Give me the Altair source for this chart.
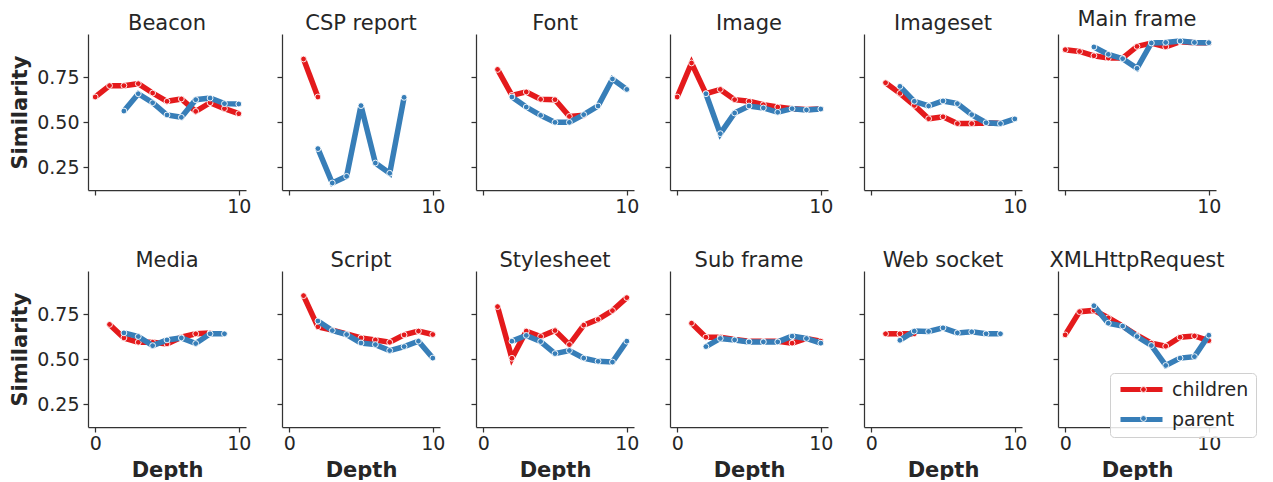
import altair as alt
import pandas as pd

N = None
DEPTHS = list(range(11))
SERIES = ["children", "parent"]
MARKERS = ["children marker", "parent marker"]
COLORS = ["#e41a1c", "#377eb8"]
CATEGORIES = ["Beacon", "CSP report", "Font", "Image", "Imageset", "Main frame",
              "Media", "Script", "Stylesheet", "Sub frame", "Web socket", "XMLHttpRequest"]

beacon_children = [0.641, 0.704, 0.704, 0.715, 0.663, 0.617, 0.630, 0.561, 0.609, 0.576, 0.548]
beacon_parent = [N, N, 0.563, 0.659, 0.609, 0.541, 0.528, 0.626, 0.635, 0.604, 0.602]
csp_children = [N, 0.852, 0.641, N, N, N, N, N, N, N, N]
csp_parent = [N, N, 0.354, 0.163, 0.200, 0.593, 0.274, 0.217, 0.639, N, N]
font_children = [N, 0.794, 0.650, 0.669, 0.628, 0.626, 0.533, 0.539, N, N, N]
font_parent = [N, N, 0.641, 0.585, 0.539, 0.500, 0.500, 0.543, 0.591, 0.741, 0.683]
image_children = [0.641, 0.830, 0.659, 0.683, 0.626, 0.617, 0.598, 0.585, 0.576, 0.572, 0.574]
image_parent = [N, N, 0.659, 0.437, 0.552, 0.591, 0.580, 0.556, 0.576, 0.569, 0.574]
imageset_children = [N, 0.720, 0.661, 0.594, 0.520, 0.531, 0.493, 0.493, 0.496, 0.495, N]
imageset_parent = [N, N, 0.700, 0.617, 0.591, 0.619, 0.604, 0.543, 0.498, 0.493, 0.519]
mainframe_children = [0.904, 0.894, 0.870, 0.857, 0.857, 0.922, 0.941, 0.920, 0.948, 0.943, 0.943]
mainframe_parent = [N, N, 0.919, 0.878, 0.854, 0.800, 0.941, 0.944, 0.952, 0.944, 0.943]
media_children = [N, 0.694, 0.619, 0.595, 0.595, 0.586, 0.623, 0.642, 0.647, N, N]
media_parent = [N, N, 0.647, 0.627, 0.576, 0.608, 0.619, 0.588, 0.642, 0.642, N]
script_children = [N, 0.854, 0.681, 0.662, 0.642, 0.619, 0.608, 0.595, 0.636, 0.657, 0.638]
script_parent = [N, N, 0.713, 0.660, 0.638, 0.591, 0.582, 0.549, 0.571, 0.601, 0.507]
stylesheet_children = [N, 0.793, 0.506, 0.657, 0.627, 0.660, 0.582, 0.690, 0.722, 0.771, 0.843]
stylesheet_parent = [N, N, 0.601, 0.633, 0.599, 0.532, 0.549, 0.507, 0.489, 0.485, 0.601]
subframe_children = [N, 0.701, 0.623, 0.623, 0.610, 0.600, 0.600, 0.600, 0.590, 0.616, 0.601]
subframe_parent = [N, N, 0.571, 0.616, 0.608, 0.597, 0.597, 0.597, 0.629, 0.616, 0.590]
websocket_children = [N, 0.642, 0.642, 0.642, N, N, N, N, N, N, N]
websocket_parent = [N, N, 0.606, 0.657, 0.655, 0.675, 0.647, 0.653, 0.642, 0.642, N]
xhr_children = [0.636, 0.765, 0.772, 0.731, 0.685, 0.634, 0.590, 0.573, 0.623, 0.630, 0.604]
xhr_parent = [N, N, 0.798, 0.701, 0.685, 0.627, 0.577, 0.466, 0.507, 0.515, 0.634]

SERIES_BY_CATEGORY = {
    "Beacon": (beacon_children, beacon_parent),
    "CSP report": (csp_children, csp_parent),
    "Font": (font_children, font_parent),
    "Image": (image_children, image_parent),
    "Imageset": (imageset_children, imageset_parent),
    "Main frame": (mainframe_children, mainframe_parent),
    "Media": (media_children, media_parent),
    "Script": (script_children, script_parent),
    "Stylesheet": (stylesheet_children, stylesheet_parent),
    "Sub frame": (subframe_children, subframe_parent),
    "Web socket": (websocket_children, websocket_parent),
    "XMLHttpRequest": (xhr_children, xhr_parent),
}

rows = []
for cat in CATEGORIES:
    for s, m, vals in zip(SERIES, MARKERS, SERIES_BY_CATEGORY[cat]):
        for d, v in zip(DEPTHS, vals):
            if v is not None:
                rows.append({"category": cat, "series": s, "marker": m, "depth": d, "value": v})
df = pd.DataFrame(rows)

FONT = "DejaVu Sans"
TXT = "#262626"
X_DOMAIN = [-0.5, 10.5]
Y_DOMAIN = [0.124, 0.991]
X_TICKS = [0, 10]
Y_TICKS = [0.25, 0.5, 0.75]
PANEL_W, PANEL_H = 158, 156

color_scale = alt.Scale(domain=SERIES, range=COLORS)
fill_scale = alt.Scale(domain=MARKERS, range=COLORS)
color_legend = alt.Legend(
    title=None, orient="none", legendX=1022, legendY=339,
    symbolType="M-1,0H6", symbolSize=144, symbolStrokeWidth=5,
    labelOffset=36, labelFontSize=19, labelFont=FONT, labelColor=TXT,
    padding=7, rowPadding=9, strokeColor="#d0d0d0", cornerRadius=4,
    fillColor="rgba(255,255,255,0.85)",
)
fill_legend = alt.Legend(
    title=None, orient="none", legendX=1039, legendY=339,
    symbolType="circle", symbolSize=34, symbolStrokeColor="white",
    symbolStrokeWidth=0.9, symbolOpacity=1,
    labelExpr="''", labelFontSize=19, labelFont=FONT,
    padding=7, rowPadding=9,
)


def panel(idx, cat):
    row, col = divmod(idx, 6)
    if row == 0:
        xaxis = alt.Axis(values=X_TICKS, title=None, labelFlush=False,
                         labelExpr="datum.value == 10 ? '10' : ''")
    else:
        xaxis = alt.Axis(values=X_TICKS, title="Depth", labelFlush=False, format="d")
    if col == 0:
        yaxis = alt.Axis(values=Y_TICKS, title="Similarity", format=".2f")
    else:
        yaxis = alt.Axis(values=Y_TICKS, title=None, labels=False)
    x = alt.X("depth:Q", scale=alt.Scale(domain=X_DOMAIN, nice=False, zero=False), axis=xaxis)
    y = alt.Y("value:Q", scale=alt.Scale(domain=Y_DOMAIN, nice=False, zero=False), axis=yaxis)
    base = alt.Chart(df).transform_filter(alt.datum.category == cat)
    layers = []
    for s in SERIES:
        b = base.transform_filter(alt.datum.series == s)
        layers.append(
            b.mark_line(strokeWidth=5.5).encode(
                x=x, y=y, order="depth:Q",
                color=alt.Color("series:N", scale=color_scale, legend=color_legend),
            )
        )
        layers.append(
            b.mark_circle(size=34, stroke="white", strokeWidth=0.9, opacity=1).encode(
                x=x, y=y,
                fill=alt.Fill("marker:N", scale=fill_scale, legend=fill_legend),
            )
        )
    return alt.layer(*layers).properties(
        width=PANEL_W, height=PANEL_H,
        title=alt.TitleParams(text=cat, fontSize=21, font=FONT, fontWeight="normal",
                              color=TXT, anchor="middle", offset=0),
    )


panels = [panel(i, c) for i, c in enumerate(CATEGORIES)]

chart = alt.concat(
    *panels, columns=6, spacing={"row": 81, "column": 36}, bounds="flush"
).resolve_scale(color="shared", fill="shared").properties(
    padding={"left": 1, "top": 1, "right": 0, "bottom": 0}
).configure_view(stroke=None).configure_axis(
    grid=False, domainColor="#333333", domainWidth=1.25, tickColor="#333333",
    tickWidth=1.25, tickSize=5, labelFont=FONT, labelFontSize=19, labelColor=TXT,
    titleFont=FONT, titleFontSize=21, titleFontWeight="bold", titleColor=TXT,
).configure_axisX(labelPadding=2, titlePadding=6).configure_axisY(
    labelPadding=4, titlePadding=6
)

chart.save("out.html", embed_options={"renderer": "svg", "actions": False})
